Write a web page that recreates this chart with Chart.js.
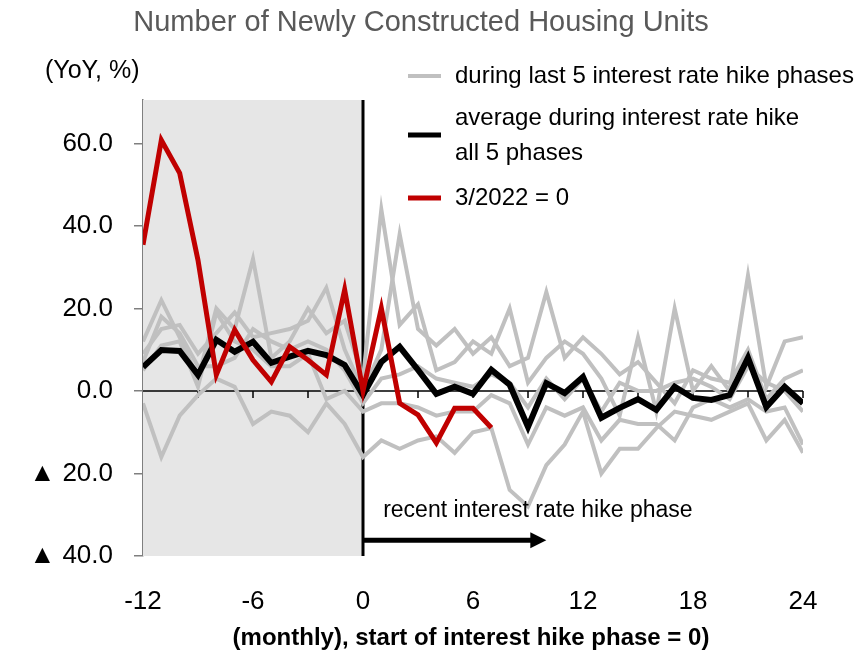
<!DOCTYPE html>
<html>
<head>
<meta charset="utf-8">
<script src="https://cdn.jsdelivr.net/npm/chart.js@4.4.1/dist/chart.umd.min.js"></script>
<style>
  html, body { margin: 0; padding: 0; background: #fff; }
</style>
</head>
<body>
<canvas id="chart" width="861" height="658"></canvas>
<script>
// months relative to start of hike phase
const months = [-12, -11, -10, -9, -8, -7, -6, -5, -4, -3, -2, -1, 0,
  1, 2, 3, 4, 5, 6, 7, 8, 9, 10, 11, 12, 13, 14, 15, 16, 17, 18, 19, 20, 21, 22, 23, 24];

// past 5 hike phases (YoY %)
const phase1 = [12, 22, 13, 3, 20, 15, 32, 8, 12, 20, 14, 17, 3,
  44, 16, 21, 5, 7, 12, 9, 20, 2, 8, 12, 9, 3, -6, 13, -5, 20, 0, 6, 0, 28, 1, 12, 13];
const phase2 = [9, 15, 16, 9, 14, 19, 13, 14, 15, 17, 25, 10, 0,
  10, 38, 15, 11, 15, 9, 13, 6, 8, 24, 8, 13, 9, 4, 7, 2, -3, 5, 3, 2, 10, -2, 3, 5];
const phase3 = [7, 18, 14, 6, 6, 8, 15, 12, 10, 12, 10, 5, -3,
  3, 4, 6, 3, 2, 1, 4, 2, -4, 3, -2, 3, -5, 2, 0, 0, 2, 3, 1, -2, 6, 2, 0, -5];
const phase4 = [5, 11, 12, 1, 19, 12, 10, 6, 6, 9, -2, 0, -5,
  -3, -3, -4, -6, -5, -5, -1, -3, -13, -4, -6, -4, -12, -7, -8, -8, -12, -4, -2, -4, -2, -5, -4, -13];
const phase5 = [-3, -16, -6, -1, 3, 1, -8, -5, -6, -10, -3, -8, -16,
  -12, -14, -12, -11, -15, -10, -9, -24, -28, -18, -13, -5, -20, -14, -14, -9, -5, -6, -7, -5, -3, -12, -7, -15];

// average of the 5 phases
const average = [5.8, 9.9, 9.7, 3.9, 12.4, 9.5, 11.9, 6.8, 8.3, 9.7, 8.7, 6.3, -1,
  7, 10.7, 5.1, -0.7, 1, -0.7, 5.1, 1.5, -8.7, 1.9, -0.5, 3.4, -6.5, -4.1, -2, -4.6, 1, -1.7, -2.2, -1, 8, -3.9, 1, -3];

// current phase, 3/2022 = 0 (until month 7)
const recent = [35.4, 60.8, 52.8, 31.7, 3.9, 14.8, 7.5, 2.2, 10.7, 7.5, 3.9, 24.5, 0,
  20, -3, -5.8, -12.6, -4.2, -4.2, -8.9];

const xTicks = [-12, -6, 0, 6, 12, 18, 24];
const zeroLineTicks = [-9, -6, -3, 3, 6, 9, 12, 15, 18, 21, 24];
const yTicks = [-40, -20, 0, 20, 40, 60];

const FONT = "'Liberation Sans Narrow', 'Arial Narrow', 'Liberation Sans', sans-serif";
const GRAY = '#c0c0c0';
const RED = '#c00000';

function toPoints(values) {
  return values.map((v, i) => ({ x: months[i], y: v }));
}

function fmtY(v) {
  return v < 0 ? '\u25B2 ' + Math.abs(v).toFixed(1) : v.toFixed(1);
}

const decor = {
  id: 'decor',
  beforeDatasetsDraw(chart) {
    const { ctx, chartArea: a, scales: { x, y } } = chart;
    const x0 = x.getPixelForValue(-12), x1 = x.getPixelForValue(0);
    const y0 = y.getPixelForValue(0);
    ctx.save();
    // shaded area before the hike
    ctx.fillStyle = '#e6e6e6';
    ctx.fillRect(x0, a.top, x1 - x0, a.bottom - a.top);
    // zero line with ticks
    ctx.strokeStyle = '#000';
    ctx.lineWidth = 1.5;
    ctx.beginPath();
    ctx.moveTo(a.left, y0);
    ctx.lineTo(a.right, y0);
    zeroLineTicks.forEach(m => {
      const px = x.getPixelForValue(m);
      ctx.moveTo(px, y0);
      ctx.lineTo(px, y0 + 7);
    });
    ctx.stroke();
    // start of hike phase
    ctx.lineWidth = 3;
    ctx.beginPath();
    ctx.moveTo(x1, a.top);
    ctx.lineTo(x1, a.bottom);
    ctx.stroke();
    ctx.restore();
  },
  afterDatasetsDraw(chart) {
    const { ctx, scales: { x, y } } = chart;
    ctx.save();
    // arrow for the recent phase
    const ax0 = x.getPixelForValue(0), ax1 = x.getPixelForValue(10);
    const ay = y.getPixelForValue(-36.2);
    ctx.fillStyle = '#000';
    ctx.strokeStyle = '#000';
    ctx.lineWidth = 5;
    ctx.beginPath();
    ctx.moveTo(ax0, ay);
    ctx.lineTo(ax1 - 14, ay);
    ctx.stroke();
    ctx.beginPath();
    ctx.moveTo(ax1 - 16, ay - 8);
    ctx.lineTo(ax1, ay);
    ctx.lineTo(ax1 - 16, ay + 8);
    ctx.closePath();
    ctx.fill();
    ctx.font = '23px ' + FONT;
    ctx.textBaseline = 'middle';
    ctx.fillText('recent interest rate hike phase', x.getPixelForValue(1.1), y.getPixelForValue(-29));
    ctx.restore();
  },
  afterDraw(chart) {
    const { ctx } = chart;
    ctx.save();
    ctx.textBaseline = 'middle';
    // title
    ctx.fillStyle = '#595959';
    ctx.font = '29px ' + FONT;
    ctx.textAlign = 'center';
    ctx.fillText('Number of Newly Constructed Housing Units', 421, 23);
    // unit
    ctx.fillStyle = '#000';
    ctx.font = '25px ' + FONT;
    ctx.textAlign = 'left';
    ctx.fillText('(YoY, %)', 45, 71);
    // legend
    ctx.font = '24px ' + FONT;
    const items = [
      { color: GRAY, width: 4, ly: 76, lines: [['during last 5 interest rate hike phases', 76]] },
      { color: '#000', width: 5, ly: 135, lines: [['average during interest rate hike', 118], ['all 5 phases', 153]] },
      { color: RED, width: 5, ly: 198, lines: [['3/2022 = 0', 198]] }
    ];
    items.forEach(it => {
      ctx.strokeStyle = it.color;
      ctx.lineWidth = it.width;
      ctx.beginPath();
      ctx.moveTo(408, it.ly);
      ctx.lineTo(441, it.ly);
      ctx.stroke();
      it.lines.forEach(([t, ty]) => ctx.fillText(t, 455, ty));
    });
    // x axis title
    ctx.font = 'bold 24px ' + FONT;
    ctx.textAlign = 'center';
    ctx.fillText('(monthly), start of interest hike phase = 0)', 471, 638);
    ctx.restore();
  }
};

const grayLine = (data) => ({
  data: toPoints(data),
  borderColor: GRAY,
  borderWidth: 4,
  pointRadius: 0,
  tension: 0
});

new Chart(document.getElementById('chart'), {
  type: 'line',
  data: {
    datasets: [
      { data: toPoints(recent), borderColor: RED, borderWidth: 5, pointRadius: 0, tension: 0 },
      { data: toPoints(average), borderColor: '#000', borderWidth: 6, pointRadius: 0, tension: 0 },
      grayLine(phase1),
      grayLine(phase2),
      grayLine(phase3),
      grayLine(phase4),
      grayLine(phase5)
    ]
  },
  options: {
    responsive: false,
    animation: false,
    layout: { padding: { top: 100, right: 58, left: 0, bottom: 0 } },
    plugins: {
      legend: { display: false },
      tooltip: { enabled: false }
    },
    scales: {
      x: {
        type: 'linear',
        min: -12,
        max: 24,
        afterBuildTicks: s => { s.ticks = xTicks.map(v => ({ value: v })); },
        afterFit: s => { s.height = 102; },
        grid: { display: false, drawTicks: false },
        border: { display: false },
        ticks: { padding: 30, color: '#000', font: { family: FONT, size: 26 } }
      },
      y: {
        min: -40,
        max: 70.5,
        afterBuildTicks: s => { s.ticks = yTicks.map(v => ({ value: v })); },
        afterFit: s => { s.width = 143; },
        grid: { drawOnChartArea: false, color: '#7f7f7f', lineWidth: 1.5, tickLength: 9 },
        border: { color: '#7f7f7f', width: 1.5 },
        ticks: { padding: 21, color: '#000', font: { family: FONT, size: 26 }, callback: v => fmtY(v) }
      }
    }
  },
  plugins: [decor]
});
</script>
</body>
</html>
